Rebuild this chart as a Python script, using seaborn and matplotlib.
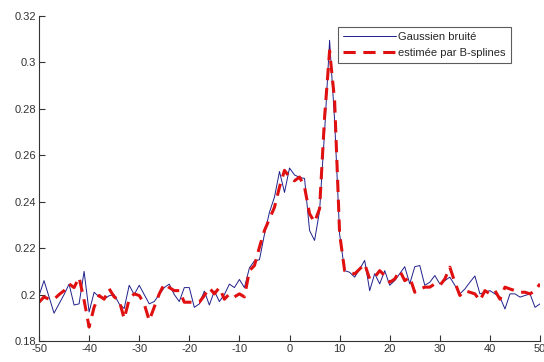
import numpy as np
import pandas as pd
import seaborn as sns
import matplotlib
matplotlib.use("Agg")
import matplotlib.pyplot as plt

# abscisses
x_vals = list(range(-50, 51))

# signal gaussien bruité
gauss_noisy = [
    0.1995, 0.206, 0.199, 0.192, 0.196, 0.200, 0.2045, 0.1955, 0.196, 0.210,
    0.1925, 0.201, 0.199, 0.198, 0.1995, 0.200, 0.196, 0.194, 0.204, 0.200,
    0.204, 0.200, 0.196, 0.197, 0.200, 0.203, 0.2045, 0.200, 0.197, 0.203,
    0.203, 0.1945, 0.196, 0.2015, 0.1955, 0.2015, 0.197, 0.200, 0.2045, 0.203,
    0.2065, 0.203, 0.2115, 0.2145, 0.215, 0.226, 0.2355, 0.242, 0.253, 0.244,
    0.2545, 0.2515, 0.2505, 0.250, 0.2276, 0.2233, 0.236, 0.270, 0.3095, 0.275,
    0.226, 0.2103, 0.2096, 0.2075, 0.211, 0.2147, 0.2017, 0.209, 0.2046, 0.2103,
    0.204, 0.206, 0.209, 0.212, 0.2046, 0.212, 0.2125, 0.204, 0.2053, 0.2082,
    0.2046, 0.206, 0.2075, 0.204, 0.2003, 0.2024, 0.2053, 0.208, 0.2003, 0.201,
    0.2017, 0.2003, 0.1989, 0.1938, 0.2003, 0.2003, 0.1989, 0.1996, 0.2003, 0.1945,
    0.196,
]

# estimation par B-splines
bspline_est = [
    0.1967, 0.199, 0.198, 0.198, 0.200, 0.2017, 0.2046, 0.203, 0.2074, 0.1975,
    0.186, 0.1946, 0.1996, 0.198, 0.2025, 0.199, 0.1975, 0.1896, 0.198, 0.2003,
    0.1996, 0.196, 0.1888, 0.1946, 0.2003, 0.2046, 0.203, 0.2017, 0.2017, 0.1967,
    0.1967, 0.1967, 0.1967, 0.1996, 0.2029, 0.2003, 0.203, 0.198, 0.2003, 0.199,
    0.2003, 0.199, 0.2103, 0.2125, 0.2204, 0.2276, 0.2326, 0.2376, 0.2463, 0.2535,
    0.2506, 0.249, 0.2506, 0.2463, 0.2348, 0.2312, 0.237, 0.2764, 0.305, 0.2836,
    0.2262, 0.2103, 0.2096, 0.2089, 0.211, 0.2132, 0.2067, 0.2075, 0.2103, 0.2082,
    0.2053, 0.2067, 0.2103, 0.206, 0.2075, 0.201, 0.2024, 0.2032, 0.2032, 0.2046,
    0.2039, 0.2067, 0.2118, 0.2053, 0.1996, 0.2017, 0.201, 0.2003, 0.1974, 0.2017,
    0.2003, 0.2017, 0.198, 0.2032, 0.2024, 0.2017, 0.201, 0.201, 0.2003, 0.2017,
    0.2046,
]

x_ticks = [-50, -40, -30, -20, -10, 0, 10, 20, 30, 40, 50]
y_ticks = [0.18, 0.2, 0.22, 0.24, 0.26, 0.28, 0.3, 0.32]
y_ticklabels = ["0.18", "0.2", "0.22", "0.24", "0.26", "0.28", "0.3", "0.32"]

sns.set_style("ticks")
plt.rcParams["font.family"] = ["Liberation Sans", "DejaVu Sans"]
plt.rcParams["axes.unicode_minus"] = False

df = pd.DataFrame({"x": x_vals, "noisy": gauss_noisy, "est": bspline_est})

fig = plt.figure(figsize=(5.44, 3.62), dpi=100)
ax = fig.add_axes([0.0717, 0.058, 0.921, 0.898])

sns.lineplot(data=df, x="x", y="noisy", ax=ax, color="#20208c", linewidth=0.7,
             label="Gaussien bruité")
sns.lineplot(data=df, x="x", y="est", ax=ax, color="#e01010", linewidth=2.2,
             label="estimée par B-splines")
ax.lines[1].set_dashes([4, 2.5])

ax.set_xlim(-50, 50)
ax.set_ylim(0.18, 0.32)
ax.set_xticks(x_ticks)
ax.set_yticks(y_ticks)
ax.set_yticklabels(y_ticklabels)
ax.set_xlabel("")
ax.set_ylabel("")
sns.despine(ax=ax)
ax.tick_params(direction="in", length=4, width=0.8, labelsize=8,
               colors="#333333", pad=2)
for s in ["left", "bottom"]:
    ax.spines[s].set_color("#333333")
    ax.spines[s].set_linewidth(0.8)

leg = ax.legend(loc="upper right", bbox_to_anchor=(0.942, 0.966), fontsize=8,
                frameon=True, fancybox=False, borderpad=0.45, handlelength=4.8,
                handletextpad=0.2, labelspacing=0.55, borderaxespad=0)
leg.get_frame().set_edgecolor("#333333")
leg.get_frame().set_linewidth(0.8)

fig.savefig("out.png", dpi=100)
